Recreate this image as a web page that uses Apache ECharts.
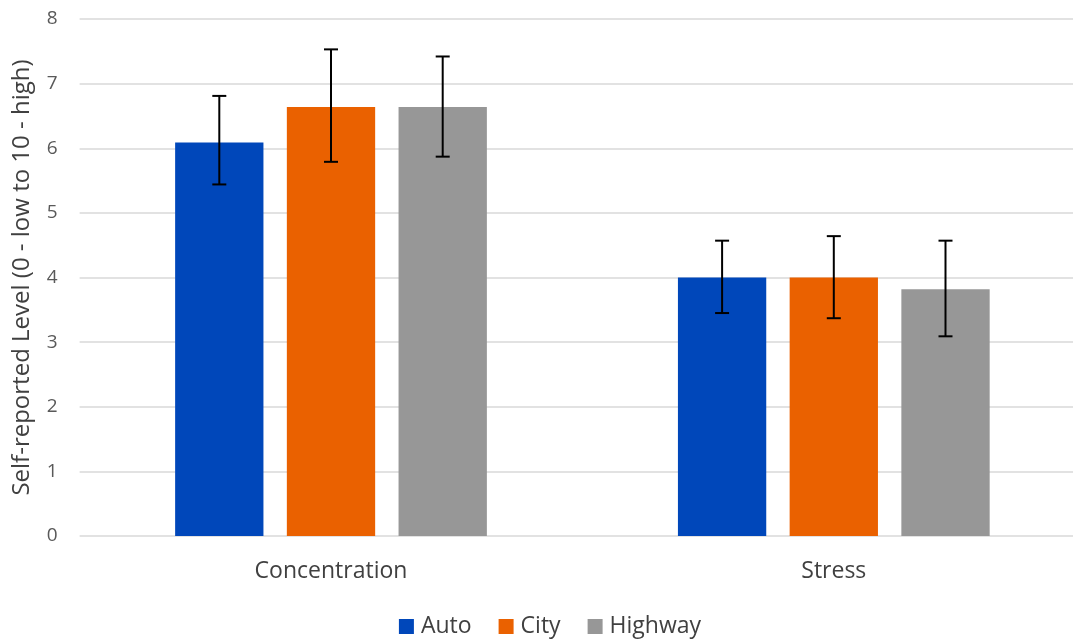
<!DOCTYPE html>
<html><head><meta charset="utf-8">
<script src="https://cdn.jsdelivr.net/npm/echarts@6/dist/echarts.min.js"></script>
<style>html,body{margin:0;padding:0;background:#fff;overflow:hidden;width:1073px;height:644px}#c{width:1100px;height:644px}</style>
</head><body><div id="c"></div>
<script>
const categories = ['Concentration', 'Stress'];
const seriesNames = ['Auto', 'City', 'Highway'];
const autoVals = [6.09, 4.00];
const cityVals = [6.64, 4.00];
const highwayVals = [6.64, 3.82];
const autoErr = [[5.44, 6.81], [3.45, 4.57]];
const cityErr = [[5.79, 7.53], [3.37, 4.64]];
const highwayErr = [[5.87, 7.42], [3.09, 4.57]];
const yTicks = [0, 1, 2, 3, 4, 5, 6, 7, 8];

const colors = ['#0047BA', '#EA6100', '#979797'];
const values = [autoVals, cityVals, highwayVals];
const errs = [autoErr, cityErr, highwayErr];
const font = '"Open Sans", "Noto Sans", sans-serif';

const barFrac = 88.3 / 502.8;
const gapFrac = 23.4 / 502.8;

const series = [];
seriesNames.forEach((n, i) => {
  series.push({
    name: n, type: 'bar', data: values[i],
    itemStyle: { color: colors[i] },
    barGap: '26.5%', barCategoryGap: '38%'
  });
});
seriesNames.forEach((n, i) => {
  series.push({
    type: 'custom', name: n + ' err', z: 10,
    data: errs[i].map((e, k) => [k, e[0], e[1]]),
    renderItem: function (params, api) {
      const k = api.value(0);
      const lo = api.coord([k, api.value(1)]);
      const hi = api.coord([k, api.value(2)]);
      const bw = api.size([1, 0])[0];
      const off = (i - 1) * (barFrac + gapFrac) * bw;
      const x = lo[0] + off;
      const cap = 7;
      const st = { stroke: '#000', lineWidth: 2 };
      return { type: 'group', children: [
        { type: 'line', shape: { x1: x, y1: lo[1], x2: x, y2: hi[1] }, style: st },
        { type: 'line', shape: { x1: x - cap, y1: lo[1], x2: x + cap, y2: lo[1] }, style: st },
        { type: 'line', shape: { x1: x - cap, y1: hi[1], x2: x + cap, y2: hi[1] }, style: st }
      ]};
    },
    silent: true
  });
});

const chart = echarts.init(document.getElementById('c'));
chart.setOption({
  animation: false,
  backgroundColor: '#fff',
  grid: { left: 79.6, top: 19, right: 14.8, height: 517 },
  legend: {
    data: seriesNames, bottom: 1, left: 'center',
    itemWidth: 15, itemHeight: 15, itemGap: 27, icon: 'rect',
    textStyle: { fontFamily: font, fontSize: 23, color: '#404040', padding: [0, 0, 0, 2] }
  },
  xAxis: {
    type: 'category', data: categories,
    axisLine: { show: false }, axisTick: { show: false },
    axisLabel: { fontFamily: font, fontSize: 23, color: '#404040', margin: 24 }
  },
  yAxis: {
    type: 'value', min: 0, max: 8, interval: 1,
    name: 'Self-reported Level (0 - low to 10 - high)',
    nameLocation: 'middle', nameGap: 45,
    nameTextStyle: { fontFamily: font, fontSize: 24, color: '#404040' },
    axisLabel: { fontFamily: font, fontSize: 19, color: '#595959', margin: 22 },
    splitLine: { lineStyle: { color: '#D9D9D9', width: 1.5 } }
  },
  series: series
});
</script></body></html>
